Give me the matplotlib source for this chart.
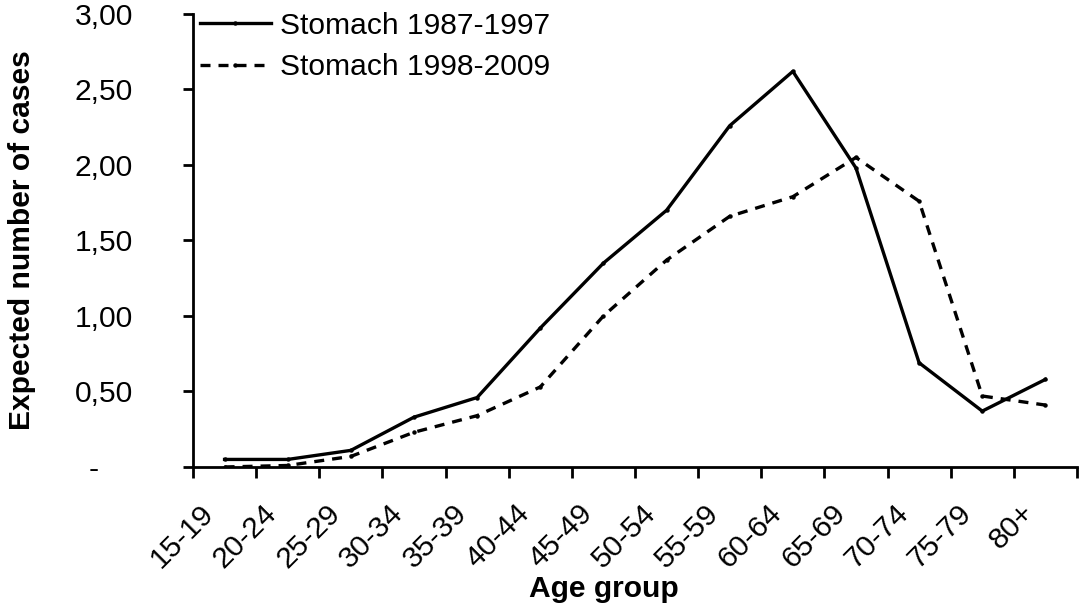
# Expected number of stomach cancer cases by age group

import numpy as np
import matplotlib.pyplot as plt
from matplotlib.transforms import ScaledTranslation

plt.rcParams['font.family'] = ['Liberation Sans', 'DejaVu Sans']

# Data
age_groups = ['15-19', '20-24', '25-29', '30-34', '35-39', '40-44', '45-49',
              '50-54', '55-59', '60-64', '65-69', '70-74', '75-79', '80+']
stomach_8797 = [0.05, 0.05, 0.11, 0.33, 0.46, 0.92, 1.35,
                1.70, 2.26, 2.62, 1.98, 0.69, 0.37, 0.58]
stomach_9809 = [0.00, 0.01, 0.07, 0.23, 0.34, 0.53, 1.00,
                1.37, 1.66, 1.79, 2.05, 1.76, 0.47, 0.41]
y_ticks = [0, 0.5, 1.0, 1.5, 2.0, 2.5, 3.0]
y_labels = ['-', '0,50', '1,00', '1,50', '2,00', '2,50', '3,00']

fs = 21.6
dpi = 100
fig = plt.figure(figsize=(10.8, 6.06), dpi=dpi)
ax = fig.add_axes([0.1787, 0.2294, 0.8185, 0.7475])

x = np.arange(len(age_groups)) + 0.5
ax.plot(x, stomach_8797, color='black', lw=2.4, marker='o', ms=2.2,
        label='Stomach 1987-1997')
ax.plot(x, stomach_9809, color='black', lw=2.4, marker='o', ms=2.2,
        dashes=(3.0, 2.4), label='Stomach 1998-2009')

ax.set_xlim(0, len(age_groups))
ax.set_ylim(0, 3.0)

# spines
for side in ['top', 'right']:
    ax.spines[side].set_visible(False)
for side in ['left', 'bottom']:
    ax.spines[side].set_linewidth(2.0)

# x: ticks between categories, labels at category centres
ax.set_xticks(np.arange(len(age_groups) + 1))
ax.set_xticklabels([])
ax.set_xticks(x, minor=True)
ax.set_xticklabels(age_groups, minor=True, rotation=45, ha='right', va='top',
                   rotation_mode='anchor', fontsize=fs)
ax.tick_params(axis='x', which='major', direction='out', length=8, width=2.0)
ax.tick_params(axis='x', which='minor', length=0, pad=23)
for lab in ax.get_xticklabels(minor=True):
    lab.set_transform(lab.get_transform() + ScaledTranslation(-25 / dpi, 0, fig.dpi_scale_trans))

# y
ax.set_yticks(y_ticks)
ax.set_yticklabels(y_labels, fontsize=fs)
ax.tick_params(axis='y', direction='out', length=7.2, width=2.0, pad=36)
lab0 = ax.get_yticklabels()[0]
lab0.set_transform(lab0.get_transform() + ScaledTranslation(-34 / dpi, 0, fig.dpi_scale_trans))

ax.set_xlabel('Age group', fontsize=fs, fontweight='bold')
ax.xaxis.set_label_coords(0.465, -0.238)
ax.set_ylabel('Expected number of cases', fontsize=fs, fontweight='bold')
ax.yaxis.set_label_coords(-0.178, 0.5)

ax.legend(loc='upper left', bbox_to_anchor=(0.008, 1.005), frameon=False,
          fontsize=fs, handlelength=2.35, handletextpad=0.3, labelspacing=0.45,
          borderpad=0, borderaxespad=0)

fig.savefig('out.png', dpi=dpi)
